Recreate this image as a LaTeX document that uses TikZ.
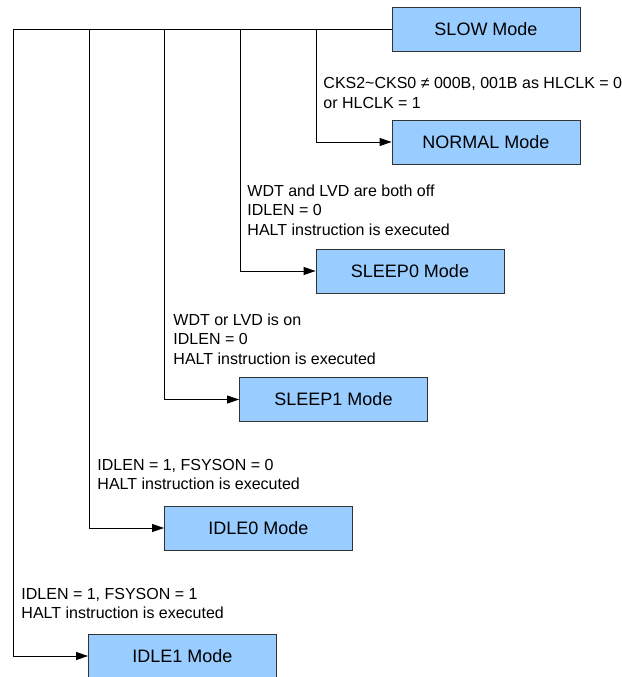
\documentclass[tikz,border=0pt]{standalone}
\usepackage{fontspec}
\setmainfont{Liberation Sans}
\usetikzlibrary{arrows.meta}
\definecolor{modeblue}{RGB}{153,204,255}
\begin{document}
\begin{tikzpicture}[x=1pt,y=-1pt,line width=0.9pt,
        modebox/.style={draw=black!80,fill=modeblue,minimum width=188pt,minimum height=44pt,inner sep=0pt,font=\fontsize{18}{20}\selectfont},
        cond/.style={anchor=base west,align=left,inner sep=0pt,font=\fontsize{16}{19.5}\selectfont},
        tip/.style={-{Triangle[length=12pt,width=8pt]}}]
        \useasboundingbox (0,0) rectangle (621,677);
        % mode boxes
        \node[modebox] (slow) at (486,29.5) {SLOW Mode};
        \node[modebox] (normal) at (486,142) {NORMAL Mode};
        \node[modebox] (sleep0) at (410,271) {SLEEP0 Mode};
        \node[modebox] (sleep1) at (333.5,399.5) {SLEEP1 Mode};
        \node[modebox] (idle0) at (258.5,528) {IDLE0 Mode};
        \node[modebox] (idle1) at (182.5,656) {IDLE1 Mode};
        % branch points on the top line
        \coordinate (b0) at (13,29.5);
        \coordinate (b1) at (89,29.5);
        \coordinate (b2) at (164,29.5);
        \coordinate (b3) at (240,29.5);
        \coordinate (b4) at (316,29.5);
        \draw (slow.west) -- (b0);
        \draw[tip] (b4) |- (normal.west);
        \draw[tip] (b3) |- (sleep0.west);
        \draw[tip] (b2) |- (sleep1.west);
        \draw[tip] (b1) |- (idle0.west);
        \draw[tip] (b0) |- (idle1.west);
        % conditions (anchored at the baseline of the last line)
        \node[cond] (cnormal) at (323,108) {CKS2\char"007E CKS0 ≠ 000B, 001B as HLCLK = 0\\or HLCLK = 1};
        \node[cond] (csleep0) at (247,235) {WDT and LVD are both off\\IDLEN = 0\\HALT instruction is executed};
        \node[cond] (csleep1) at (173,364) {WDT or LVD is on\\IDLEN = 0\\HALT instruction is executed};
        \node[cond] (cidle0) at (97,489.5) {IDLEN = 1, FSYSON = 0\\HALT instruction is executed};
        \node[cond] (cidle1) at (21,618.5) {IDLEN = 1, FSYSON = 1\\HALT instruction is executed};
    \end{tikzpicture}
\end{document}
